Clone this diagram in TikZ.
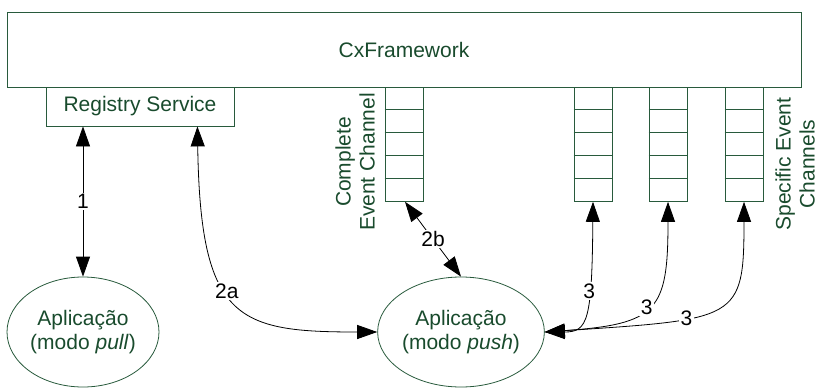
\documentclass[tikz,border=0pt]{standalone}
\usepackage{fontspec}
\setmainfont{Liberation Sans}
\usetikzlibrary{arrows.meta,shapes.geometric,calc}
\definecolor{txtgreen}{RGB}{25,75,45}
\definecolor{lngreen}{RGB}{40,90,60}
\begin{document}
\begin{tikzpicture}[x=1pt,y=-1pt,
  every node/.style={font=\fontsize{21}{24}\selectfont},
  boxed/.style={draw=lngreen,line width=0.8pt,text=txtgreen,inner sep=0pt},
  queue/.style={draw=lngreen,line width=0.8pt,minimum width=38pt,minimum height=114pt,inner sep=0pt,anchor=north},
  app/.style={ellipse,draw=lngreen,line width=0.8pt,text=txtgreen,minimum width=152pt,minimum height=110pt,inner sep=0pt,align=center},
  rot/.style={rotate=90,text=txtgreen,align=center,inner sep=0pt},
  conn/.style={line width=0.8pt,{Triangle[length=20pt,width=14pt]}-{Triangle[length=20pt,width=14pt]}},
  lbl/.style={fill=white,inner sep=1.5pt,text=black}]
\useasboundingbox (0,0) rectangle (818,388);
\node[boxed,minimum width=794pt,minimum height=75pt] (fw) at (404,49.5) {CxFramework};
\node[boxed,minimum width=188pt,minimum height=39pt] (reg) at (140,106.5) {Registry Service};
\node[queue] (q0) at (404,87) {};
\node[queue] (q1) at (593,87) {};
\node[queue] (q2) at (668,87) {};
\node[queue] (q3) at (744,87) {};
\foreach \q in {q0,q1,q2,q3}{
  \foreach \i in {1,...,4}{
    \draw[lngreen,line width=0.8pt] ($(\q.north west)+(0,\i*22.8)$) -- ($(\q.north east)+(0,\i*22.8)$);
  }
}
\node[rot] (cl) at (355,162) {Complete\\Event Channel};
\node[rot] (sl) at (795,164) {Specific Event\\Channels};
\node[app] (pull) at (83,332) {Aplicação\\(modo \textit{pull})};
\node[app] (push) at (461,332) {Aplicação\\(modo \textit{push})};
\coordinate (r1) at (reg.south -| pull.north);
\coordinate (r2) at ([xshift=-37pt]reg.south east);
\draw[conn] (r1) -- node[lbl] {1} (pull.north);
\draw[conn] (r2) .. controls +(3,194) and +(-140,0) .. node[lbl,pos=0.44] {2a} (push.west);
\draw[conn] ([xshift=1pt]q0.south) -- node[lbl] {2b} (push.north);
\draw[conn] (q1.south) .. controls +(-1,119) and +(43,0) .. node[lbl,pos=0.35] {3} (push.east);
\draw[conn] (q2.south) .. controls +(0,109) and +(113,-8) .. node[lbl,pos=0.52] {3} (push.east);
\draw[conn] (q3.south) .. controls +(0,119) and +(193,-13) .. node[lbl,pos=0.65] {3} (push.east);
\end{tikzpicture}
\end{document}
